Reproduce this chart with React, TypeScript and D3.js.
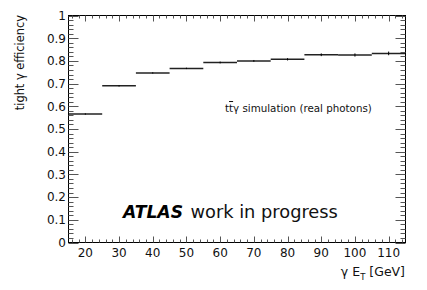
import React from "react";
import * as d3 from "d3";

const binEdges = [15, 25, 35, 45, 55, 65, 75, 85, 95, 105, 115];
const efficiency = [0.566, 0.69, 0.747, 0.767, 0.793, 0.8, 0.807, 0.827, 0.826, 0.833];
const errors = [0.003, 0.003, 0.003, 0.003, 0.004, 0.004, 0.005, 0.006, 0.007, 0.008];
const xTicks = [20, 30, 40, 50, 60, 70, 80, 90, 100, 110];
const yTicks = [0, 0.1, 0.2, 0.3, 0.4, 0.5, 0.6, 0.7, 0.8, 0.9, 1];

const W = 427;
const H = 290;
const L = 68.5;
const R = 405.5;
const T = 15.5;
const B = 242.5;

export default function App() {
  const x = d3.scaleLinear().domain([15, 115]).range([L, R]);
  const y = d3.scaleLinear().domain([0, 1]).range([B, T]);
  const xMinor = d3.range(16, 115, 2).filter((v) => v % 10 !== 0);
  const yMinor = d3.range(0, 50).map((i) => i * 0.02).filter((_, i) => i % 5 !== 0);
  const font = "DejaVu Sans, sans-serif";
  return (
    <svg width={W} height={H} style={{ position: "absolute", left: 0, top: 0, background: "#fff" }}>
      <rect x={0} y={0} width={W} height={H} fill="#fff" />
      {/* bins */}
      {efficiency.map((v, i) => (
        <g key={i}>
          <line x1={x(binEdges[i])} x2={x(binEdges[i + 1])} y1={y(v)} y2={y(v)} stroke="#222" strokeWidth={1.5} />
          <line
            x1={x((binEdges[i] + binEdges[i + 1]) / 2)}
            x2={x((binEdges[i] + binEdges[i + 1]) / 2)}
            y1={y(v - errors[i])}
            y2={y(v + errors[i])}
            stroke="#000"
            strokeWidth={1}
          />
        </g>
      ))}
      {/* frame */}
      <rect x={L} y={T} width={R - L} height={B - T} fill="none" stroke="#000" strokeWidth={1} />
      {/* x ticks */}
      {xTicks.map((v) => (
        <g key={"xt" + v}>
          <line x1={Math.round(x(v)) + 0.5} x2={Math.round(x(v)) + 0.5} y1={B} y2={B - 6} stroke="#555" />
          <line x1={Math.round(x(v)) + 0.5} x2={Math.round(x(v)) + 0.5} y1={T} y2={T + 6} stroke="#555" />
          <text x={x(v)} y={257} textAnchor="middle" fontFamily={font} fontSize={12} fill="#111">
            {v}
          </text>
        </g>
      ))}
      {xMinor.map((v) => (
        <g key={"xm" + v}>
          <line x1={Math.round(x(v)) + 0.5} x2={Math.round(x(v)) + 0.5} y1={B} y2={B - 3} stroke="#555" />
          <line x1={Math.round(x(v)) + 0.5} x2={Math.round(x(v)) + 0.5} y1={T} y2={T + 3} stroke="#555" />
        </g>
      ))}
      {/* y ticks */}
      {yTicks.map((v) => (
        <g key={"yt" + v}>
          <line x1={L} x2={L + 10} y1={Math.round(y(v)) + 0.5} y2={Math.round(y(v)) + 0.5} stroke="#555" />
          <line x1={R} x2={R - 10} y1={Math.round(y(v)) + 0.5} y2={Math.round(y(v)) + 0.5} stroke="#555" />
          <text x={66} y={y(v)} dy="0.36em" textAnchor="end" fontFamily={font} fontSize={12} fill="#111">
            {v === 0 || v === 1 ? String(v) : v.toFixed(1)}
          </text>
        </g>
      ))}
      {yMinor.map((v, i) => (
        <g key={"ym" + i}>
          <line x1={L} x2={L + 5} y1={Math.round(y(v)) + 0.5} y2={Math.round(y(v)) + 0.5} stroke="#555" />
          <line x1={R} x2={R - 5} y1={Math.round(y(v)) + 0.5} y2={Math.round(y(v)) + 0.5} stroke="#555" />
        </g>
      ))}
      {/* axis titles */}
      <text
        transform="translate(24,15) rotate(-90)"
        textAnchor="end"
        fontFamily={font}
        fontSize={11.4}
        fill="#111"
      >
        tight γ efficiency
      </text>
      <text x={405} y={276} textAnchor="end" fontFamily={font} fontSize={12.5} fill="#111">
        γ E<tspan fontSize={8.5} dy={4}>T</tspan>
        <tspan dy={-4}> [GeV]</tspan>
      </text>
      {/* labels */}
      <text x={225} y={112} fontFamily={font} fontSize={10.3} fill="#111">
        t<tspan textDecoration="overline" style={{ textDecoration: "overline" }}>t</tspan>γ simulation (real photons)
      </text>
      <text x={123} y={217.5} fontFamily={font} fontSize={17.2} fontWeight="bold" fontStyle="italic" fill="#000">
        ATLAS
      </text>
      <text x={190.5} y={217.5} fontFamily={font} fontSize={17.8} fill="#111">
        work in progress
      </text>
    </svg>
  );
}
